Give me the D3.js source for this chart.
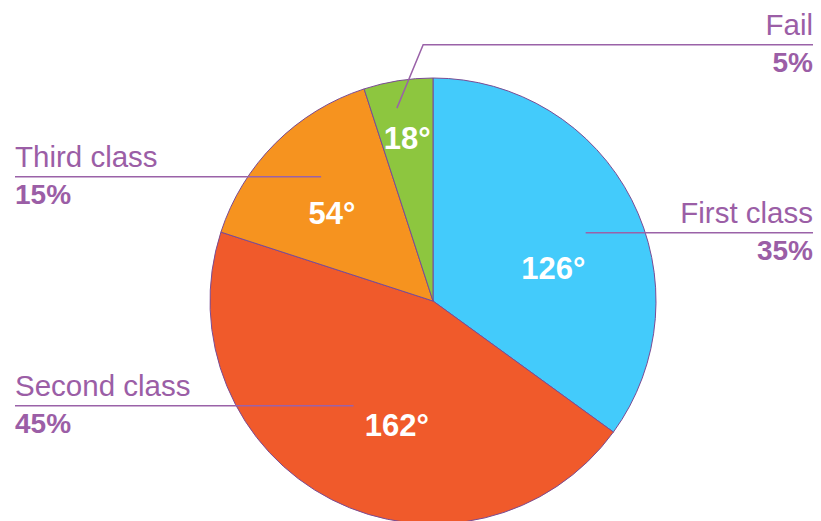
<!DOCTYPE html>
<html>
<head>
<meta charset="utf-8">
<script src="https://cdn.jsdelivr.net/npm/d3@7"></script>
<style>
  body { margin: 0; background: #fff; }
  text { font-family: "Liberation Sans", Arial, Helvetica, sans-serif; }
</style>
</head>
<body>
<svg id="chart" width="821" height="521"></svg>
<script>
const categories = ["First class", "Second class", "Third class", "Fail"]
const degrees = [126, 162, 54, 18]
const percents = [35, 45, 15, 5]
const colors = ["#43cbfb", "#f05a2b", "#f6931f", "#8dc63f"]

// layout only: [angle in deg from 12 o'clock, radius fraction]
const valueLabelPos = [[74.5, 0.56], [196.2, 0.58], [311, 0.60], [351, 0.74]]
const leaderPos = [[65.9, 0.75], [217.2, 0.59], [318, 0.75], [349.4, 0.88]]
const side = ["right", "left", "left", "right"]

const width = 821, height = 521
const cx = 433, cy = 301, radius = 223
const leftX = 15, rightX = 813
const textColor = "#9b5ea6", lineColor = "#9a62a8"

const svg = d3.select("#chart")
const g = svg.append("g").attr("transform", "translate(" + cx + "," + cy + ")")

const pie = d3.pie().sort(null).value(d => d)
const arc = d3.arc().innerRadius(0).outerRadius(radius)
const arcs = pie(degrees)

g.selectAll(".slice").data(arcs).join("path").attr("class", "slice")
  .attr("d", arc)
  .attr("fill", (d, i) => colors[i])
  .attr("stroke", "#7a4c94").attr("stroke-width", 1)

const polar = (a, r) => [r * radius * Math.sin(a * Math.PI / 180), -r * radius * Math.cos(a * Math.PI / 180)]

//--------- leader lines
arcs.forEach((d, i) => {
  const p = polar(leaderPos[i][0], leaderPos[i][1])
  const ex = (side[i] === "left" ? leftX : rightX) - cx
  let pts
  if (categories[i] === "Fail") {
    const elbow = polar(357.8, 1.15)
    pts = [p, elbow, [ex, elbow[1]]]
  } else {
    pts = [p, [ex, p[1]]]
  }
  g.append("path").attr("d", d3.line()(pts))
    .attr("fill", "none").attr("stroke", lineColor).attr("stroke-width", 1.5)
  const ly = pts[pts.length - 1][1]
  const anchor = side[i] === "left" ? "start" : "end"
  g.append("text").attr("x", ex).attr("y", ly - 10).attr("text-anchor", anchor)
    .attr("font-size", 29.5).attr("fill", textColor).text(categories[i])
  g.append("text").attr("x", ex).attr("y", ly + 27).attr("text-anchor", anchor)
    .attr("font-size", 28).attr("font-weight", "bold").attr("fill", textColor).text(percents[i] + "%")
})

//--------- degree labels
g.selectAll(".val").data(arcs).join("text").attr("class", "val")
  .attr("x", (d, i) => polar(valueLabelPos[i][0], valueLabelPos[i][1])[0])
  .attr("y", (d, i) => polar(valueLabelPos[i][0], valueLabelPos[i][1])[1])
  .attr("dy", "0.36em")
  .attr("text-anchor", "middle")
  .attr("font-size", 31).attr("font-weight", "bold").attr("fill", "#fff")
  .text(d => d.data + "°")
</script>
</body>
</html>
